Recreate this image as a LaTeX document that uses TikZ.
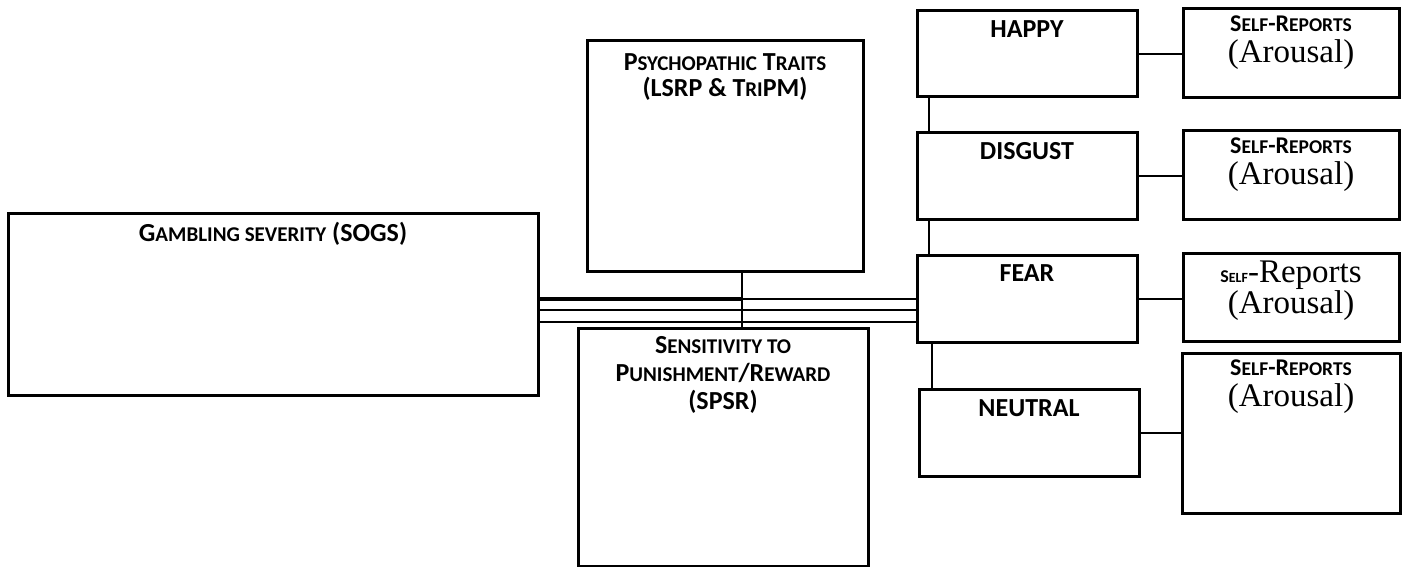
\documentclass[tikz,border=0pt]{standalone}
\usepackage{fontspec}
\setmainfont{Carlito}
\newfontfamily\serifface{Liberation Serif}
% faked small capitals: the lower-case part is set smaller
\newcommand\lowcaps[1]{{\fontsize{21}{22}\selectfont #1}}
\newcommand\lowcapsS[1]{{\fontsize{19.5}{31}\selectfont #1}}
\newcommand\arousal{{\serifface\mdseries\fontsize{33}{31}\selectfont (Arousal)}}
\tikzset{
  box/.style={draw, line width=3pt, rectangle, inner sep=0pt, outer sep=0pt, anchor=north west},
  link/.style={line width=2pt},
  boxtext/.style={anchor=north, inner sep=0pt, align=center, font={\bfseries\fontsize{26}{33}\selectfont}},
  reporttext/.style={anchor=north, inner sep=0pt, align=center, font={\bfseries\fontsize{24}{31}\selectfont}},
}
\begin{document}
\begin{tikzpicture}[x=1pt,y=-1pt]
\useasboundingbox (0,0) rectangle (1402,567);

% left and middle boxes
\node[box, minimum width=530pt, minimum height=182pt] (gamb) at (8,213) {};
\node[box, minimum width=276pt, minimum height=230pt] (psych) at (587,41) {};
\node[box, minimum width=290pt, minimum height=238pt] (spsr) at (578,328) {};

% emotion conditions
\node[box, minimum width=220pt, minimum height=86pt] (happy) at (917,11) {};
\node[box, minimum width=220pt, minimum height=86pt] (disgust) at (917,133) {};
\node[box, minimum width=220pt, minimum height=87pt] (fear) at (917,255) {};
\node[box, minimum width=220pt, minimum height=87pt] (neutral) at (919,389) {};

% self-report boxes
\node[box, minimum width=216pt, minimum height=89pt] (sr1) at (1183,9) {};
\node[box, minimum width=216pt, minimum height=88pt] (sr2) at (1183,131) {};
\node[box, minimum width=216pt, minimum height=88pt] (sr3) at (1183,253) {};
\node[box, minimum width=218pt, minimum height=160pt] (sr4) at (1182,353) {};

% box captions
\node[boxtext] (gambT) at ([yshift=-9pt]gamb.north) {G\lowcaps{AMBLING SEVERITY} (SOGS)};
\node[boxtext, font={\bfseries\fontsize{26}{26}\selectfont}] (psychT) at ([yshift=-12pt]psych.north) {P\lowcaps{SYCHOPATHIC} T\lowcaps{RAITS}\\(LSRP \& T\lowcaps{RI}PM)};
\node[boxtext, font={\bfseries\fontsize{26}{28}\selectfont}] (spsrT) at ([yshift=-8pt]spsr.north) {S\lowcaps{ENSITIVITY TO}\\P\lowcaps{UNISHMENT}/R\lowcaps{EWARD}\\(SPSR)};
\node[boxtext] (happyT) at ([yshift=-9pt]happy.north) {HAPPY};
\node[boxtext] (disgustT) at ([yshift=-9pt]disgust.north) {DISGUST};
\node[boxtext] (fearT) at ([yshift=-9pt]fear.north) {FEAR};
\node[boxtext] (neutralT) at ([yshift=-10pt]neutral.north) {NEUTRAL};
\node[reporttext] (sr1T) at ([yshift=-7pt]sr1.north) {S\lowcapsS{ELF}-R\lowcapsS{EPORTS}\\\arousal};
\node[reporttext] (sr2T) at ([yshift=-7pt]sr2.north) {S\lowcapsS{ELF}-R\lowcapsS{EPORTS}\\\arousal};
\node[reporttext] (sr3T) at ([yshift=-8pt]sr3.north) {{\fontsize{18}{31}\selectfont S{\fontsize{14}{31}\selectfont ELF}}{\serifface\mdseries\fontsize{33}{31}\selectfont -Reports}\\\arousal};
\node[reporttext] (sr4T) at ([yshift=-7pt]sr4.north) {S\lowcapsS{ELF}-R\lowcapsS{EPORTS}\\\arousal};

% junction points of the parallel links
\coordinate (j) at ([xshift=17pt]psych.south);
\coordinate (g1) at ([yshift=5pt]gamb.east);
\coordinate (g2) at ([yshift=-6pt]gamb.east);
\coordinate (g3) at ([yshift=-18pt]gamb.east);

% links between gambling severity and the fear condition
\draw[link] (g1) -- (g1 -| fear.west);
\draw[link] (g2) -- (g2 -| fear.west);
\draw[link] (g3) -- (g3 -| fear.west);
\draw[line width=3.5pt] (g1) -- (g1 -| j);
\draw[link] (j) -- (j |- spsr.north);

% chain of emotion conditions
\draw[link] ([xshift=12pt]happy.south west) -- ([xshift=12pt]happy.south west |- disgust.north);
\draw[link] ([xshift=12pt]disgust.south west) -- ([xshift=12pt]disgust.south west |- fear.north);
\draw[link] ([xshift=15pt]fear.south west) -- ([xshift=15pt]fear.south west |- neutral.north);

% conditions to self-reports
\draw[link] (happy.east) -- (happy.east -| sr1.west);
\draw[link] (disgust.east) -- (disgust.east -| sr2.west);
\draw[link] (fear.east) -- (fear.east -| sr3.west);
\draw[link] (neutral.east) -- (neutral.east -| sr4.west);
\end{tikzpicture}
\end{document}
